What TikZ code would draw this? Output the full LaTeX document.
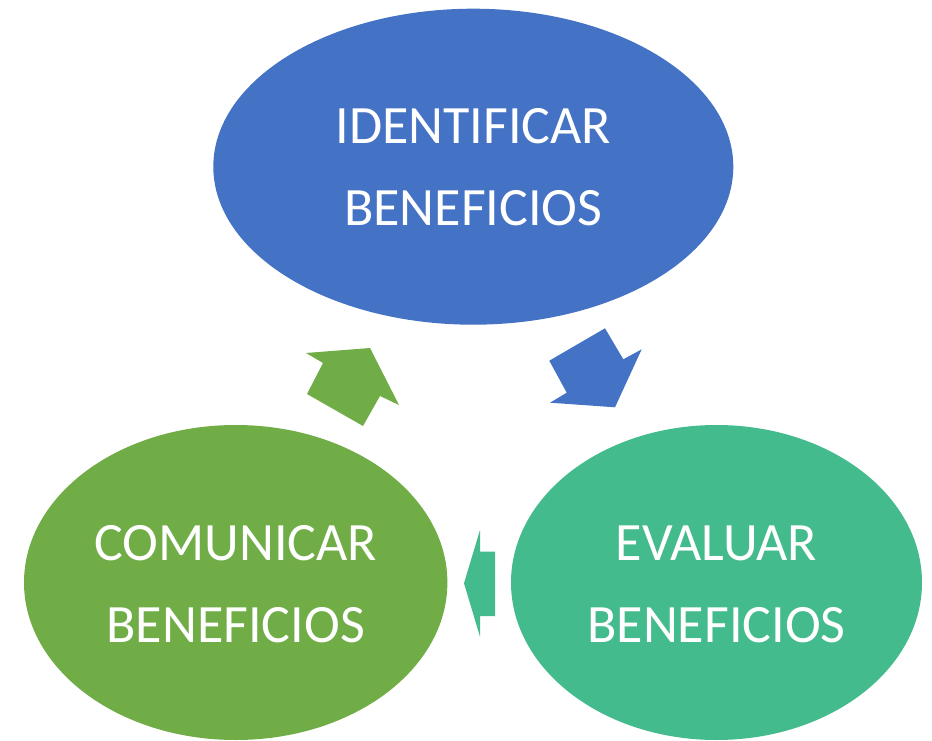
\documentclass[tikz,border=0pt]{standalone}
\usepackage{fontspec}
\setmainfont{Carlito}
\usetikzlibrary{shapes.geometric}
\definecolor{cblue}{RGB}{68,114,196}
\definecolor{cgreen}{RGB}{112,173,71}
\definecolor{cteal}{RGB}{68,187,140}
\tikzset{
  bubble/.style={ellipse, inner sep=0pt, text=white, align=center,
    font=\fontsize{54}{82}\selectfont},
  blockarrow/.style={draw=none}
}
\begin{document}
\begin{tikzpicture}[x=1pt,y=-1pt]
\useasboundingbox (0,0) rectangle (932,741);
\fill[cblue] (473.3,166.7) ellipse [x radius=260, y radius=158];
\fill[cgreen] (235.7,582.5) ellipse [x radius=211.7, y radius=157.5];
\fill[cteal] (716.5,582.5) ellipse [x radius=205.5, y radius=157.5];
\node[bubble] (ident) at (473.3,166.7) {IDENTIFICAR\\BENEFICIOS};
\node[bubble] (comun) at (235.7,584) {COMUNICAR\\BENEFICIOS};
\node[bubble] (evalu) at (716.5,584) {EVALUAR\\BENEFICIOS};
% block arrows
\fill[cblue, blockarrow] (605,328.3) -- (623.3,359.3) -- (641.7,349.3) -- (615,407.3)
  -- (550,402.7) -- (566.7,392.7) -- (549.3,360.7) -- cycle;
\fill[cteal, blockarrow] (480,530) -- (480,551.7) -- (495,551.7) -- (495,616)
  -- (480,616) -- (480,636.7) -- (464,583.3) -- cycle;
\fill[cgreen, blockarrow] (306,353) -- (370,348) -- (399,405) -- (380,396)
  -- (363,426) -- (307,394) -- (323,363) -- cycle;
\end{tikzpicture}
\end{document}
